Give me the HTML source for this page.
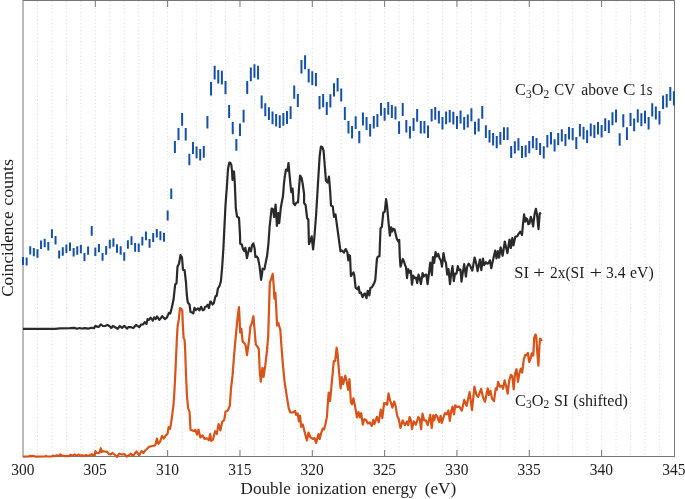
<!DOCTYPE html><html><head><meta charset="utf-8"><style>html,body{margin:0;padding:0;background:#fff;width:685px;height:499px;overflow:hidden}svg{display:block;will-change:transform}text{font-family:"Liberation Serif",serif;fill:#1c1c1c}</style></head><body>
<svg width="685" height="499" viewBox="0 0 685 499">
<path d="M37.47 1V456 M51.93 1V456 M66.39 1V456 M80.86 1V456 M95.33 1V456 M109.79 1V456 M124.25 1V456 M138.72 1V456 M153.19 1V456 M167.65 1V456 M182.12 1V456 M196.58 1V456 M211.04 1V456 M225.51 1V456 M239.97 1V456 M254.44 1V456 M268.90 1V456 M283.37 1V456 M297.83 1V456 M312.30 1V456 M326.76 1V456 M341.23 1V456 M355.69 1V456 M370.16 1V456 M384.62 1V456 M399.09 1V456 M413.56 1V456 M428.02 1V456 M442.49 1V456 M456.95 1V456 M471.42 1V456 M485.88 1V456 M500.34 1V456 M514.81 1V456 M529.27 1V456 M543.74 1V456 M558.21 1V456 M572.67 1V456 M587.13 1V456 M601.60 1V456 M616.06 1V456 M630.53 1V456 M645.00 1V456 M659.46 1V456" stroke="#d6d6d6" stroke-width="1" stroke-dasharray="1 2.65" fill="none"/>
<rect x="23" y="0.5" width="651.5" height="456" fill="none" stroke="#777777" stroke-width="1"/>
<path d="M95.33 0V7M95.33 456V450M167.65 0V7M167.65 456V450M239.97 0V7M239.97 456V450M312.30 0V7M312.30 456V450M384.62 0V7M384.62 456V450M456.95 0V7M456.95 456V450M529.27 0V7M529.27 456V450M601.60 0V7M601.60 456V450" stroke="#777777" stroke-width="1" fill="none"/>
<path d="M23.00 257.1V264.9M26.62 257.4V265.5M30.23 246.3V254.5M33.85 248.1V256.2M37.47 249.3V257.7M41.08 240.5V248.9M44.70 238.8V247.2M48.31 242.1V250.5M51.93 229.2V238.1M55.55 236.1V244.5M59.16 250.5V258.6M62.78 247.2V255.7M66.39 244.5V252.9M70.01 242.4V250.9M73.63 248.1V256.5M77.24 246.3V254.7M80.86 244.8V253.3M84.48 252.9V261.0M88.09 246.5V254.7M91.71 226.1V235.7M95.33 247.5V255.9M98.94 243.9V252.3M102.56 252.9V260.8M106.17 246.1V254.8M109.79 239.7V248.4M113.41 238.3V246.7M117.02 244.3V252.7M120.64 246.3V254.8M124.25 252.3V260.8M127.87 240.3V248.7M131.49 236.3V245.1M135.10 243.1V251.7M138.72 243.6V252.0M142.34 236.7V245.5M145.95 231.5V240.3M149.57 239.1V247.8M153.19 233.1V242.1M156.80 228.9V237.5M160.42 231.3V240.3M164.03 232.7V241.8M167.65 210.6V220.5M171.27 188.6V199.1M174.88 141.1V152.9M178.50 128.0V140.3M182.12 113.0V125.8M185.73 128.0V140.6M189.35 153.7V165.2M192.96 142.0V153.9M196.58 146.6V158.2M200.20 149.0V160.5M203.81 146.1V157.7M207.43 116.0V128.5M211.04 82.0V95.6M214.66 65.8V79.5M218.28 70.0V83.6M221.89 70.7V84.6M225.51 81.0V94.3M229.13 105.0V118.0M232.74 121.9V134.3M236.36 139.0V150.8M239.97 123.6V135.9M243.59 109.8V122.6M247.21 80.9V94.1M250.82 67.5V81.3M254.44 64.2V77.8M258.06 65.8V79.5M261.67 95.5V108.5M265.29 103.2V116.3M268.90 107.2V120.1M272.52 111.6V124.3M276.14 113.9V126.4M279.75 115.3V128.1M283.37 113.1V125.8M286.99 111.0V123.9M290.60 106.2V119.1M294.22 85.5V98.8M297.83 94.0V107.0M301.45 60.0V73.6M305.07 55.2V69.2M308.68 68.8V82.6M312.30 71.3V84.9M315.92 72.9V86.3M319.53 96.0V109.3M323.15 94.0V107.3M326.76 102.0V115.0M330.38 94.2V107.6M334.00 83.2V96.5M337.61 78.0V91.5M341.23 88.5V101.5M344.85 107.0V119.9M348.46 121.0V133.6M352.08 126.0V138.6M355.69 116.2V129.0M359.31 131.0V143.3M362.93 112.6V125.6M366.54 117.0V129.9M370.16 124.0V136.6M373.78 116.0V128.6M377.39 114.0V126.9M381.01 103.0V115.8M384.62 108.0V120.7M388.24 101.9V114.8M391.86 105.0V117.9M395.47 106.5V119.6M399.09 121.3V134.1M402.71 103.0V116.1M406.32 120.0V132.6M409.94 126.3V138.6M413.56 118.1V130.9M417.17 109.1V121.8M420.79 121.0V133.6M424.40 121.1V133.6M428.02 125.5V137.9M431.64 109.1V121.6M435.25 107.1V119.8M438.87 110.8V123.5M442.49 117.0V129.6M446.10 111.5V124.2M449.72 110.0V122.5M453.33 111.8V124.5M456.95 116.0V128.9M460.57 110.5V123.5M464.18 117.0V129.8M467.80 114.5V127.6M471.42 108.2V121.2M475.03 121.8V134.6M478.65 118.5V131.6M482.26 106.0V118.7M485.88 125.3V137.9M489.50 129.9V142.6M493.11 133.0V145.6M496.73 136.0V148.2M500.34 132.0V144.7M503.96 127.2V139.9M507.58 127.2V139.9M511.19 146.1V157.9M514.81 141.3V153.6M518.43 138.3V150.6M522.04 146.1V157.9M525.66 145.3V157.3M529.27 141.0V153.3M532.89 136.0V148.3M536.51 137.9V150.1M540.12 143.0V155.1M543.74 146.3V158.6M547.36 135.0V147.6M550.97 132.0V144.6M554.59 139.3V151.6M558.21 132.9V145.3M561.82 129.2V141.6M565.44 134.0V146.1M569.05 127.0V139.6M572.67 128.0V140.3M576.29 136.9V149.1M579.90 124.0V136.6M583.52 126.8V139.6M587.13 130.2V142.9M590.75 123.6V136.3M594.37 125.0V137.9M597.98 122.0V134.6M601.60 125.0V137.6M605.22 118.2V130.9M608.83 120.3V132.9M612.45 112.2V125.3M616.06 109.5V122.6M619.68 133.3V145.8M623.30 114.2V127.3M626.91 127.3V140.1M630.53 113.1V125.9M634.15 118.4V131.3M637.76 109.2V122.6M641.38 113.2V126.3M645.00 110.8V123.6M648.61 116.9V129.6M652.23 103.2V116.6M655.84 106.4V119.6M659.46 111.1V124.6M663.08 95.4V109.0M666.69 94.1V107.6M670.31 86.9V100.7M673.92 91.2V105.5" stroke="#1450a8" stroke-width="2" fill="none"/>
<polyline points="23.0,328.9 40.0,328.9 55.0,328.8 60.0,328.3 70.0,328.2 74.4,327.9 77.0,328.8 79.6,328.0 81.4,328.5 84.9,328.2 88.4,328.6 91.5,327.8 94.1,328.2 95.4,325.8 97.1,326.7 98.9,326.9 100.8,324.4 102.8,326.0 105.0,326.0 107.5,325.0 109.4,326.0 111.2,327.9 112.9,326.0 115.1,327.3 117.7,328.8 119.9,326.0 122.1,327.9 124.3,325.8 126.9,328.6 128.3,327.2 131.1,327.2 133.3,328.0 136.0,325.0 139.3,327.2 141.0,324.7 143.2,324.3 144.8,322.1 146.5,323.9 147.6,319.1 149.0,319.9 150.6,317.7 152.8,320.6 154.2,317.3 155.7,319.1 157.0,316.4 159.4,319.9 162.3,316.2 164.9,319.1 166.9,317.5 168.9,312.9 170.2,313.6 171.6,308.5 173.5,299.8 175.2,284.4 176.5,283.3 177.5,266.6 179.0,263.8 180.5,255.0 182.0,257.5 183.0,269.8 184.6,270.4 186.0,282.5 186.8,295.0 187.8,302.5 189.5,304.5 190.5,312.0 191.8,312.3 193.3,313.3 194.5,307.8 195.8,310.0 198.0,308.3 199.5,310.3 201.1,306.8 202.8,310.3 204.3,309.3 205.0,306.8 206.5,306.5 207.5,304.8 208.9,308.1 210.3,301.5 211.0,301.8 212.5,304.5 213.7,303.5 215.5,296.3 216.7,295.7 217.9,288.5 219.7,285.5 220.9,281.3 222.1,268.0 223.3,250.0 225.5,205.0 227.0,185.0 228.0,169.0 229.3,162.5 230.3,162.8 231.3,164.5 232.0,171.0 232.5,180.0 233.0,171.3 234.0,171.5 234.8,183.0 235.8,208.0 237.0,216.5 239.0,218.0 240.0,235.0 240.2,243.8 241.8,244.6 243.0,249.0 244.2,251.0 245.4,247.8 246.9,258.2 248.2,252.6 249.4,247.8 250.9,251.4 252.0,245.4 253.4,243.4 254.6,248.2 255.4,257.0 257.0,256.6 258.2,259.0 259.6,266.6 261.1,279.8 262.0,274.4 262.6,268.7 264.4,269.3 265.3,264.8 266.2,260.0 267.1,255.8 268.5,243.0 269.6,227.0 271.6,208.5 273.1,209.5 274.1,217.0 275.6,204.5 276.9,226.0 278.2,213.0 279.2,223.1 280.8,208.0 282.0,201.0 283.0,196.1 284.0,183.1 284.8,176.6 286.0,169.5 287.5,170.6 288.5,163.0 289.5,174.1 290.6,186.1 291.3,192.1 292.6,188.6 293.5,203.0 295.0,205.0 296.5,202.5 298.0,202.5 299.1,187.1 300.1,175.6 301.6,178.1 302.6,183.1 304.1,194.1 304.1,203.0 305.6,205.0 307.1,218.0 308.3,219.5 309.0,244.2 310.5,240.0 311.7,236.4 312.3,242.4 313.1,249.4 314.4,237.0 316.1,215.0 317.0,200.0 318.2,179.6 319.7,155.6 320.9,146.6 322.4,147.2 323.6,150.8 324.8,166.4 326.0,180.8 327.6,182.6 329.0,176.6 330.2,191.7 331.0,205.5 332.8,206.5 334.0,217.0 335.5,214.5 338.3,235.0 340.5,251.3 342.2,250.6 343.9,252.6 345.7,249.1 347.4,252.6 348.3,260.4 349.1,255.2 350.0,255.8 350.9,276.0 351.9,274.7 353.5,272.5 354.3,275.4 355.6,287.7 357.5,289.4 358.7,286.7 359.6,293.0 360.8,292.4 362.6,297.2 364.4,293.6 365.3,293.6 366.5,298.2 367.7,290.9 368.6,291.8 369.4,295.4 370.4,287.9 371.9,287.3 374.1,283.4 375.3,279.8 376.9,259.1 377.7,256.8 379.5,256.1 380.5,228.7 381.9,226.6 383.3,212.5 384.7,211.8 386.1,199.2 387.1,206.2 388.2,218.9 389.9,235.7 391.1,227.3 392.2,231.5 393.2,228.7 394.6,229.4 396.7,238.5 398.1,241.3 399.2,239.9 399.8,257.0 400.5,266.6 401.5,263.5 402.8,259.0 404.0,261.5 405.0,265.0 406.0,267.1 407.0,278.1 408.2,269.1 409.5,272.6 410.8,270.6 412.0,284.6 413.2,275.6 414.5,278.1 416.0,277.6 417.2,283.1 418.5,274.6 419.5,277.6 420.9,284.1 422.6,273.1 423.6,276.6 424.9,275.1 426.3,274.6 427.6,284.1 429.1,272.1 430.3,262.5 431.9,275.1 432.9,257.0 434.1,263.0 435.6,252.0 436.9,256.5 438.3,254.0 439.6,258.5 440.9,260.5 442.0,266.6 443.5,253.0 444.8,260.6 446.0,263.1 447.2,274.6 448.5,269.1 450.0,284.1 451.2,273.6 452.5,266.1 453.8,281.1 455.0,273.6 456.5,273.6 457.8,266.1 459.0,270.1 460.5,269.6 461.5,281.6 462.8,272.6 464.2,264.1 465.9,276.6 467.1,267.1 468.6,263.6 470.1,265.6 472.3,270.6 474.6,257.5 476.1,263.1 477.6,271.1 479.9,259.5 481.3,270.1 482.9,258.5 484.1,265.1 485.9,262.1 487.1,263.6 488.6,263.1 489.9,260.3 491.3,268.2 492.8,261.0 495.2,250.6 496.5,258.4 497.8,251.2 499.1,257.7 500.6,247.3 502.6,255.8 504.8,241.5 507.4,253.2 509.5,239.5 510.8,248.0 512.3,238.2 513.4,245.4 515.2,236.9 517.3,236.3 518.2,234.4 520.3,231.6 522.0,235.0 523.1,223.1 524.1,214.4 525.2,221.7 526.2,218.2 527.3,219.3 528.3,224.2 529.4,223.8 530.8,216.8 531.8,219.6 533.1,226.3 534.6,214.0 535.9,208.8 537.1,215.1 538.5,229.1 539.7,213.7 541.0,212.6" stroke="#2a2a2a" stroke-width="2.2" fill="none" stroke-linejoin="round"/>
<polyline points="23.0,456.6 29.0,456.5 30.2,455.8 31.5,456.5 33.1,455.8 35.0,456.6 45.0,456.5 46.0,455.9 47.0,456.5 52.0,456.3 53.0,455.6 54.5,456.2 57.0,455.3 58.5,456.0 60.3,454.4 62.0,455.6 65.0,456.2 68.8,456.2 70.3,454.8 72.5,455.8 74.6,454.4 76.5,455.6 78.4,454.6 80.5,455.6 82.5,455.4 84.0,455.9 86.0,455.0 88.4,456.0 90.0,455.0 91.6,454.2 93.3,455.6 94.5,454.8 95.5,451.2 96.6,453.0 98.0,453.0 99.5,452.6 100.8,448.2 101.7,451.9 102.8,451.2 104.6,451.5 107.2,451.9 109.0,454.1 110.4,454.5 112.6,453.0 114.5,454.5 117.0,457.0 119.2,453.7 121.4,454.5 124.3,454.1 126.5,456.6 128.7,455.5 130.9,453.7 133.1,455.9 136.4,451.5 139.2,455.3 141.6,451.1 143.4,452.9 145.2,450.5 147.0,449.0 148.8,446.9 151.2,446.3 153.6,445.7 155.4,445.1 156.9,438.5 158.4,443.9 160.2,441.5 162.0,435.8 163.8,438.5 166.3,434.9 167.5,433.7 168.7,427.0 170.1,428.8 171.1,422.8 172.3,414.4 173.5,404.8 174.5,390.0 175.5,370.0 176.8,340.0 177.6,326.5 178.8,319.2 180.0,308.0 181.2,308.8 182.3,310.8 182.8,324.1 183.6,337.7 184.6,340.2 185.2,351.0 186.0,375.0 187.0,396.1 188.1,408.0 189.6,412.2 190.5,429.8 192.6,430.5 194.0,431.2 195.4,429.8 197.1,434.7 198.5,429.5 200.4,437.5 202.5,435.4 204.6,438.9 206.7,438.2 208.8,440.3 210.2,434.0 211.2,441.0 213.0,439.6 215.1,431.2 216.8,434.0 218.6,424.2 220.4,430.5 222.1,422.0 224.2,420.0 225.6,411.5 227.5,410.8 228.0,410.0 229.8,405.8 231.0,388.4 232.6,375.2 234.0,356.0 236.0,333.6 237.8,315.6 239.0,307.2 240.2,332.4 241.4,328.8 242.6,341.4 244.4,343.2 245.6,345.0 247.0,355.2 249.0,340.8 250.4,326.4 251.6,324.0 253.4,316.2 254.6,330.0 255.8,344.4 257.6,346.8 258.8,349.2 259.8,372.0 260.8,381.6 262.4,367.8 263.6,376.8 265.2,366.0 267.0,350.4 268.2,336.0 269.2,302.6 269.8,283.0 271.1,279.1 272.7,273.9 273.7,285.6 274.4,298.7 275.4,292.8 276.3,309.1 277.0,325.4 278.3,322.8 280.3,330.0 281.0,340.0 282.6,361.2 284.4,380.4 286.4,394.0 288.8,408.5 290.4,412.5 292.8,412.5 295.2,410.9 296.0,414.9 297.6,413.3 298.9,421.3 300.0,415.7 301.2,426.9 302.8,424.5 304.4,430.9 305.6,435.7 306.9,440.5 308.5,432.5 310.4,437.3 312.9,438.9 314.5,438.1 316.1,442.9 318.5,434.1 319.7,438.9 321.3,432.5 322.9,428.5 324.1,429.3 325.7,422.9 327.0,416.5 327.7,405.0 328.7,392.5 330.1,401.0 331.9,381.3 333.8,361.0 335.2,361.0 336.6,347.6 337.5,353.2 338.9,370.1 340.6,388.3 341.8,377.1 343.2,384.1 345.3,375.7 346.7,381.3 348.1,389.7 349.5,379.2 350.9,402.0 352.0,404.2 353.4,398.2 354.9,405.4 357.0,417.5 358.5,412.0 360.0,417.5 361.2,413.2 362.8,424.7 364.2,419.3 366.0,419.9 367.8,423.5 369.6,422.3 371.7,425.9 373.2,419.9 374.4,424.1 376.9,416.9 378.7,422.3 380.8,409.6 382.3,418.1 384.1,403.0 385.9,403.6 387.1,404.8 388.5,393.4 390.1,400.6 391.3,403.6 392.4,407.6 394.2,401.5 395.5,405.4 397.2,415.9 398.8,419.2 400.5,428.0 402.7,420.3 404.9,425.2 407.1,421.4 408.2,425.2 409.6,417.0 410.9,420.3 412.0,429.1 413.7,421.4 415.9,424.7 418.4,417.0 419.8,419.2 421.1,429.1 422.5,413.7 424.2,420.3 425.8,420.3 427.7,425.2 430.2,414.8 431.7,428.0 433.2,415.3 434.1,420.3 435.8,414.8 437.2,416.4 439.1,421.9 440.7,415.9 441.8,423.0 444.0,415.9 445.0,413.1 446.8,414.3 448.4,410.4 449.8,420.9 451.3,410.7 452.5,406.5 454.0,414.3 455.2,405.3 457.0,407.1 459.4,406.5 461.8,410.7 464.2,399.9 466.6,405.9 469.6,392.0 472.0,410.1 474.4,386.6 476.5,395.0 478.1,396.9 481.1,388.8 482.9,396.9 485.0,401.7 487.7,388.4 488.9,395.0 490.4,390.8 492.1,398.7 494.0,401.1 495.7,388.4 496.9,389.6 498.1,381.8 500.0,386.6 502.1,385.8 503.1,388.8 504.6,380.4 506.3,386.7 507.7,393.7 509.1,381.1 510.9,374.8 512.3,376.2 513.7,389.5 515.1,373.4 516.5,369.2 518.0,381.8 519.4,373.4 520.8,368.5 522.2,372.7 523.8,359.3 525.2,354.8 526.5,355.2 527.9,353.0 529.2,362.0 530.6,358.4 531.7,353.4 532.6,354.8 533.3,355.7 534.2,337.6 535.5,334.5 536.3,336.7 537.3,353.0 538.4,365.6 539.3,348.5 540.0,338.5 541.0,339.4 541.7,341.2" stroke="#d95319" stroke-width="2.2" fill="none" stroke-linejoin="round"/>
<text transform="translate(240.58,493.8) scale(1.0379,1)" font-size="16.5">Double</text>
<text transform="translate(296.53,493.8) scale(1.0611,1)" font-size="16.5">ionization</text>
<text transform="translate(371.89,493.8) scale(1.0159,1)" font-size="16.5">energy</text>
<text transform="translate(424.71,493.8) scale(1.0470,1)" font-size="16.5">(eV)</text>
<text transform="translate(514.30,277.8) scale(1.0038,1)" font-size="16.5">SI</text>
<text transform="translate(533.36,277.8) scale(1.2516,1)" font-size="16.5">+</text>
<text transform="translate(550.00,277.8) scale(0.9352,1)" font-size="16.5">2x(SI</text>
<text transform="translate(589.48,277.8) scale(1.3548,1)" font-size="16.5">+</text>
<text transform="translate(605.99,277.8) scale(0.9468,1)" font-size="16.5">3.4</text>
<text transform="translate(630.12,277.8) scale(0.9532,1)" font-size="16.5">eV)</text>
<text transform="translate(515.06,95.3) scale(0.9909,1)" font-size="16.5">C<tspan font-size="11.5" dy="2.2">3</tspan><tspan dy="-2.2">O</tspan><tspan font-size="11.5" dy="2.2">2</tspan><tspan dy="-2.2"></tspan></text>
<text transform="translate(554.33,95.3) scale(0.9000,1)" font-size="16.5">CV</text>
<text transform="translate(581.33,95.3) scale(0.9464,1)" font-size="16.5">above</text>
<text transform="translate(622.95,95.3) scale(1.1351,1)" font-size="16.5">C</text>
<text transform="translate(639.37,95.3) scale(0.8880,1)" font-size="16.5">1s</text>
<text transform="translate(515.06,405.5) scale(0.9909,1)" font-size="16.5">C<tspan font-size="11.5" dy="2.2">3</tspan><tspan dy="-2.2">O</tspan><tspan font-size="11.5" dy="2.2">2</tspan><tspan dy="-2.2"></tspan></text>
<text transform="translate(554.03,405.5) scale(0.9660,1)" font-size="16.5">SI</text>
<text transform="translate(573.27,405.5) scale(0.9761,1)" font-size="16.5">(shifted)</text>
<text transform="translate(11.27,474.6) scale(0.9670,1)" font-size="16">300</text>
<text transform="translate(83.60,474.6) scale(0.9670,1)" font-size="16">305</text>
<text transform="translate(155.92,474.6) scale(0.9670,1)" font-size="16">310</text>
<text transform="translate(228.25,474.6) scale(0.9670,1)" font-size="16">315</text>
<text transform="translate(300.57,474.6) scale(0.9670,1)" font-size="16">320</text>
<text transform="translate(372.90,474.6) scale(0.9670,1)" font-size="16">325</text>
<text transform="translate(445.22,474.6) scale(0.9670,1)" font-size="16">330</text>
<text transform="translate(517.55,474.6) scale(0.9670,1)" font-size="16">335</text>
<text transform="translate(589.87,474.6) scale(0.9670,1)" font-size="16">340</text>
<text transform="translate(662.20,474.6) scale(0.9670,1)" font-size="16">345</text>
<g transform="translate(13,296) rotate(-90)"><text transform="translate(-0.78,0) scale(1.0351,1)" font-size="16.5">Coincidence</text><text transform="translate(90.15,0) scale(1.0905,1)" font-size="16.5">counts</text></g>
</svg></body></html>
